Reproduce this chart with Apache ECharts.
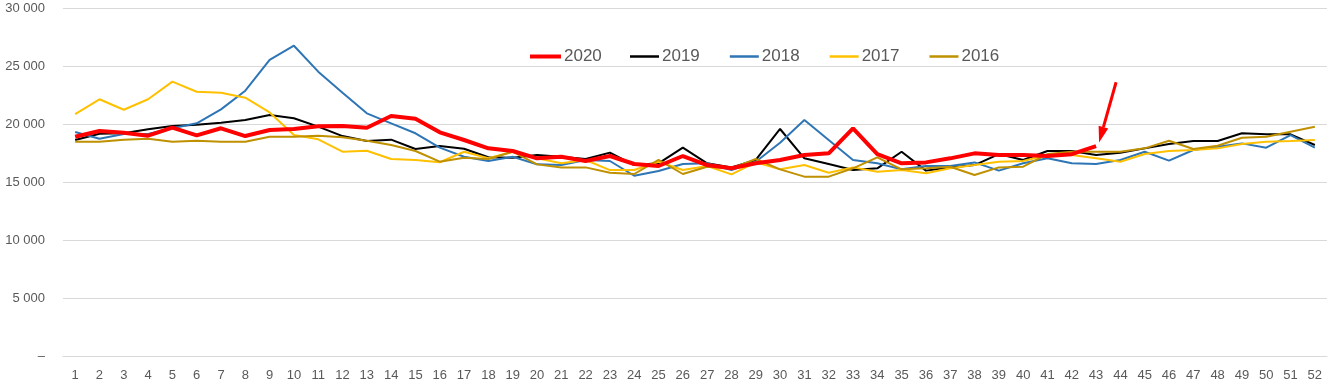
<!DOCTYPE html>
<html><head><meta charset="utf-8">
<script src="https://cdn.jsdelivr.net/npm/echarts@6/dist/echarts.min.js"></script>
<style>html,body{margin:0;padding:0;background:#fff}#c{width:1340px;height:391px}</style>
</head><body><div id="c"></div>
<script>
const weeks = Array.from({length:52},(_,i)=>String(i+1));
const s2020 = [18900,19400,19250,18990,19680,19020,19630,18960,19480,19570,19800,19830,19680,20690,20460,19280,18620,17900,17670,17040,17180,16810,17240,16550,16380,17240,16460,16180,16610,16900,17330,17470,19630,17410,16610,16690,17040,17470,17330,17330,17240,17400,18100];
const s2019 = [18620,19160,19200,19540,19830,19940,20110,20340,20770,20490,19770,18960,18530,18650,17840,18100,17870,17130,17100,17330,17180,16980,17530,16460,16610,17960,16610,16260,16900,19570,17040,16550,16030,16180,17610,15980,16260,16460,17410,16900,17670,17670,17330,17530,17900,18270,18530,18530,19200,19110,19110,18190];
const s2018 = [19310,18730,19140,19140,19630,20060,21260,22870,25520,26750,24510,22700,20920,20060,19200,17960,17180,16810,17180,16520,16460,16900,16810,15540,15950,16550,16610,16030,16750,18390,20340,18620,16900,16610,16090,16380,16380,16690,15980,16610,17040,16610,16550,16900,17610,16840,17760,18040,18330,17960,19050,17960];
const s2017 = [20860,22130,21230,22130,23650,22780,22700,22270,21000,19050,18680,17610,17700,16980,16900,16700,17610,17040,17610,17040,16610,16900,16030,16030,16750,16030,16380,15660,16690,16090,16460,15800,16260,15890,16030,15750,16180,16460,16750,16810,17330,17330,17040,16750,17410,17670,17760,17900,18270,18470,18530,18620];
const s2016 = [18470,18470,18640,18730,18470,18560,18470,18470,18900,18900,18990,18850,18560,18190,17670,16750,17100,16980,17610,16520,16260,16260,15800,15690,16900,15690,16320,16180,16980,16090,15460,15460,16180,17130,16090,16180,16320,15600,16260,16320,17410,17610,17610,17610,17900,18560,17840,18130,18820,18900,19340,19770];
const yTicks = [0,5000,10000,15000,20000,25000,30000];

const FONT = '"Liberation Sans", "DejaVu Sans", sans-serif';
const chart = echarts.init(document.getElementById('c'), null, {renderer:'canvas'});
function mk(name, data, color, width){
  return {name, type:'line', data, symbol:'none', showSymbol:false, smooth:false,
    lineStyle:{color, width}, itemStyle:{color}, z: name==='2020'?10:2, animation:false};
}
const legText = {fontSize:17, color:'#595959', fontFamily:FONT, padding:[0,0,0,-2]};
chart.setOption({
  animation:false,
  grid:{left:63, right:13, top:8, bottom:35, containLabel:false},
  legend:[
    {top:43, left:525, icon:'rect', itemWidth:31, itemHeight:4, itemGap:26,
      textStyle:legText, data:['2020']},
    {top:43, left:625, icon:'rect', itemWidth:29, itemHeight:2.5, itemGap:30,
      textStyle:legText, data:['2019','2018','2017','2016']}
  ],
  xAxis:{type:'category', data:weeks, boundaryGap:true,
    axisLine:{show:true, lineStyle:{color:'#d9d9d9', width:1}},
    axisTick:{show:false},
    axisLabel:{color:'#595959', fontSize:13, fontFamily:FONT, margin:13, interval:0}},
  yAxis:{type:'value', min:yTicks[0], max:yTicks[yTicks.length-1], interval:5000,
    axisLine:{show:false}, axisTick:{show:false},
    splitLine:{lineStyle:{color:'#d9d9d9', width:1}},
    axisLabel:{color:'#595959', fontSize:13, fontFamily:FONT, margin:18,
      formatter:v=> v===0 ? '–' : String(v).replace(/\B(?=(\d{3})+(?!\d))/g,' ')}},
  series:[
    mk('2019', s2019, '#000000', 2),
    mk('2018', s2018, '#2E75B6', 2),
    mk('2017', s2017, '#FFC000', 2),
    mk('2016', s2016, '#BF9000', 2),
    mk('2020', s2020, '#FF0000', 4)
  ]
});

// annotation arrow pointing to week 43 of 2020
const tip = chart.convertToPixel({gridIndex:0}, [42, 18400]);
const tail = chart.convertToPixel({gridIndex:0}, [42, 23600]);
const sx = tail[0]+20, sy = tail[1];
const ex = tip[0]+3, ey = tip[1];
const dx = ex-sx, dy = ey-sy, L = Math.hypot(dx,dy), ux=dx/L, uy=dy/L;
const hl = 16, hw = 5;
const bx = ex-ux*hl, by = ey-uy*hl;
chart.setOption({graphic:[
  {type:'line', shape:{x1:sx,y1:sy,x2:bx,y2:by}, style:{stroke:'#FF0000', lineWidth:3}, z:100},
  {type:'polygon', shape:{points:[[ex,ey],[bx-uy*hw,by+ux*hw],[bx+uy*hw,by-ux*hw]]}, style:{fill:'#FF0000'}, z:100}
]});
</script></body></html>
